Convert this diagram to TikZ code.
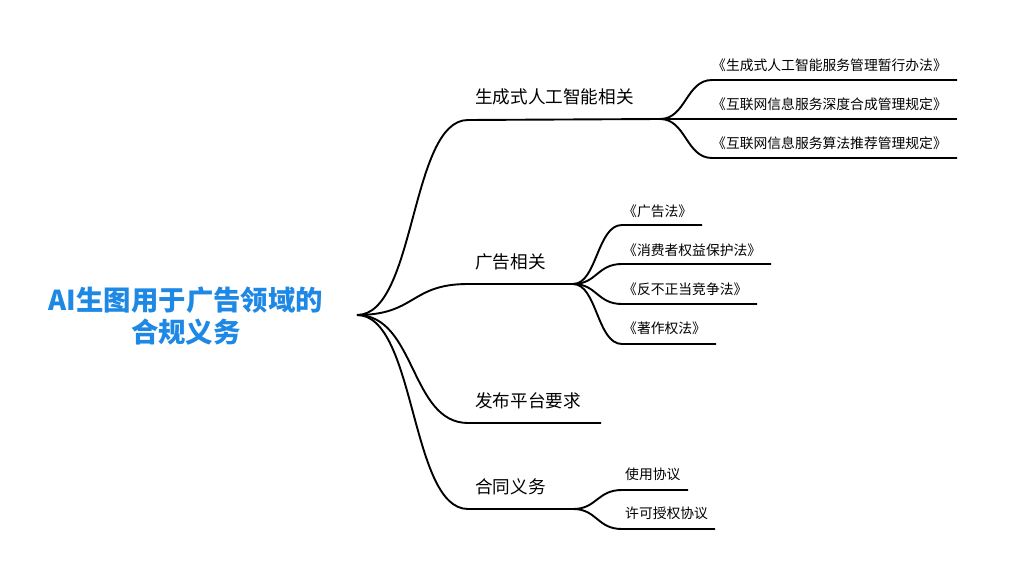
\documentclass[tikz,border=0pt]{standalone}
\usepackage{fontspec}
\setmainfont{Noto Sans CJK SC}
\definecolor{rootblue}{RGB}{30,136,229}
\begin{document}
\begin{tikzpicture}[x=1pt,y=-1pt,
  link/.style={line width=1.9pt,black},
  roottext/.style={text=rootblue,font=\bfseries\fontsize{27.4}{32.5}\selectfont,align=center,inner sep=0pt},
  branchtext/.style={font=\fontsize{17.6}{20}\selectfont,anchor=west,inner sep=0pt},
  leaftext/.style={font=\fontsize{13.8}{16}\selectfont,anchor=west,inner sep=0pt}]
\useasboundingbox (0,0) rectangle (1028,580);
\fill[white] (0,0) rectangle (1028,580);

% root
\node[roottext] (root) at (186,316) {AI生图用于广告领域的\\合规义务};
\coordinate (r) at (357,315);

% branch texts
\node[branchtext] (b1) at (475,97) {生成式人工智能相关};
\node[branchtext] (b2) at (475,262) {广告相关};
\node[branchtext] (b3) at (475,401) {发布平台要求};
\node[branchtext] (b4) at (475,487) {合同义务};

% leaf texts
\node[leaftext] (l11) at (712,65) {《生成式人工智能服务管理暂行办法》};
\node[leaftext] (l12) at (712,104) {《互联网信息服务深度合成管理规定》};
\node[leaftext] (l13) at (712,143) {《互联网信息服务算法推荐管理规定》};
\node[leaftext] (l21) at (623,211) {《广告法》};
\node[leaftext] (l22) at (623,250) {《消费者权益保护法》};
\node[leaftext] (l23) at (623,289) {《反不正当竞争法》};
\node[leaftext] (l24) at (623,328) {《著作权法》};
\node[leaftext] (l41) at (625,474) {使用协议};
\node[leaftext] (l42) at (625,513) {许可授权协议};

% coordinates
\coordinate (b1s) at (468,120); \coordinate (b1e) at (660,119);
\coordinate (b2s) at (468,284); \coordinate (b2e) at (573,284);
\coordinate (b3s) at (468,423); \coordinate (b3e) at (601,423);
\coordinate (b4s) at (468,509); \coordinate (b4e) at (573,509);

\coordinate (l11s) at (712,80);  \coordinate (l11e) at (957,80);
\coordinate (l12s) at (712,119); \coordinate (l12e) at (957,119);
\coordinate (l13s) at (712,158); \coordinate (l13e) at (957,158);
\coordinate (l21s) at (622,225); \coordinate (l21e) at (702,225);
\coordinate (l22s) at (622,264); \coordinate (l22e) at (771,264);
\coordinate (l23s) at (622,304); \coordinate (l23e) at (757,304);
\coordinate (l24s) at (622,344); \coordinate (l24e) at (716,344);
\coordinate (l41s) at (622,490); \coordinate (l41e) at (688,490);
\coordinate (l42s) at (622,529); \coordinate (l42e) at (715,529);

% root to branches
\draw[link] (r) .. controls (416,315) and (410,120) .. (b1s) -- (b1e);
\draw[link] (r) .. controls (416,315) and (410,284) .. (b2s) -- (b2e);
\draw[link] (r) .. controls (416,315) and (410,423) .. (b3s) -- (b3e);
\draw[link] (r) .. controls (416,315) and (410,509) .. (b4s) -- (b4e);

% branch 1 leaves
\draw[link] (b1e) .. controls (686,119) and (686,80) .. (l11s) -- (l11e);
\draw[link] (b1e) -- (l12s) -- (l12e);
\draw[link] (b1e) .. controls (686,119) and (686,158) .. (l13s) -- (l13e);

% branch 2 leaves
\draw[link] (b2e) .. controls (597,284) and (597,225) .. (l21s) -- (l21e);
\draw[link] (b2e) .. controls (597,284) and (597,264) .. (l22s) -- (l22e);
\draw[link] (b2e) .. controls (597,284) and (597,304) .. (l23s) -- (l23e);
\draw[link] (b2e) .. controls (597,284) and (597,344) .. (l24s) -- (l24e);

% branch 4 leaves
\draw[link] (b4e) .. controls (597,509) and (597,490) .. (l41s) -- (l41e);
\draw[link] (b4e) .. controls (597,509) and (597,529) .. (l42s) -- (l42e);
\end{tikzpicture}
\end{document}
